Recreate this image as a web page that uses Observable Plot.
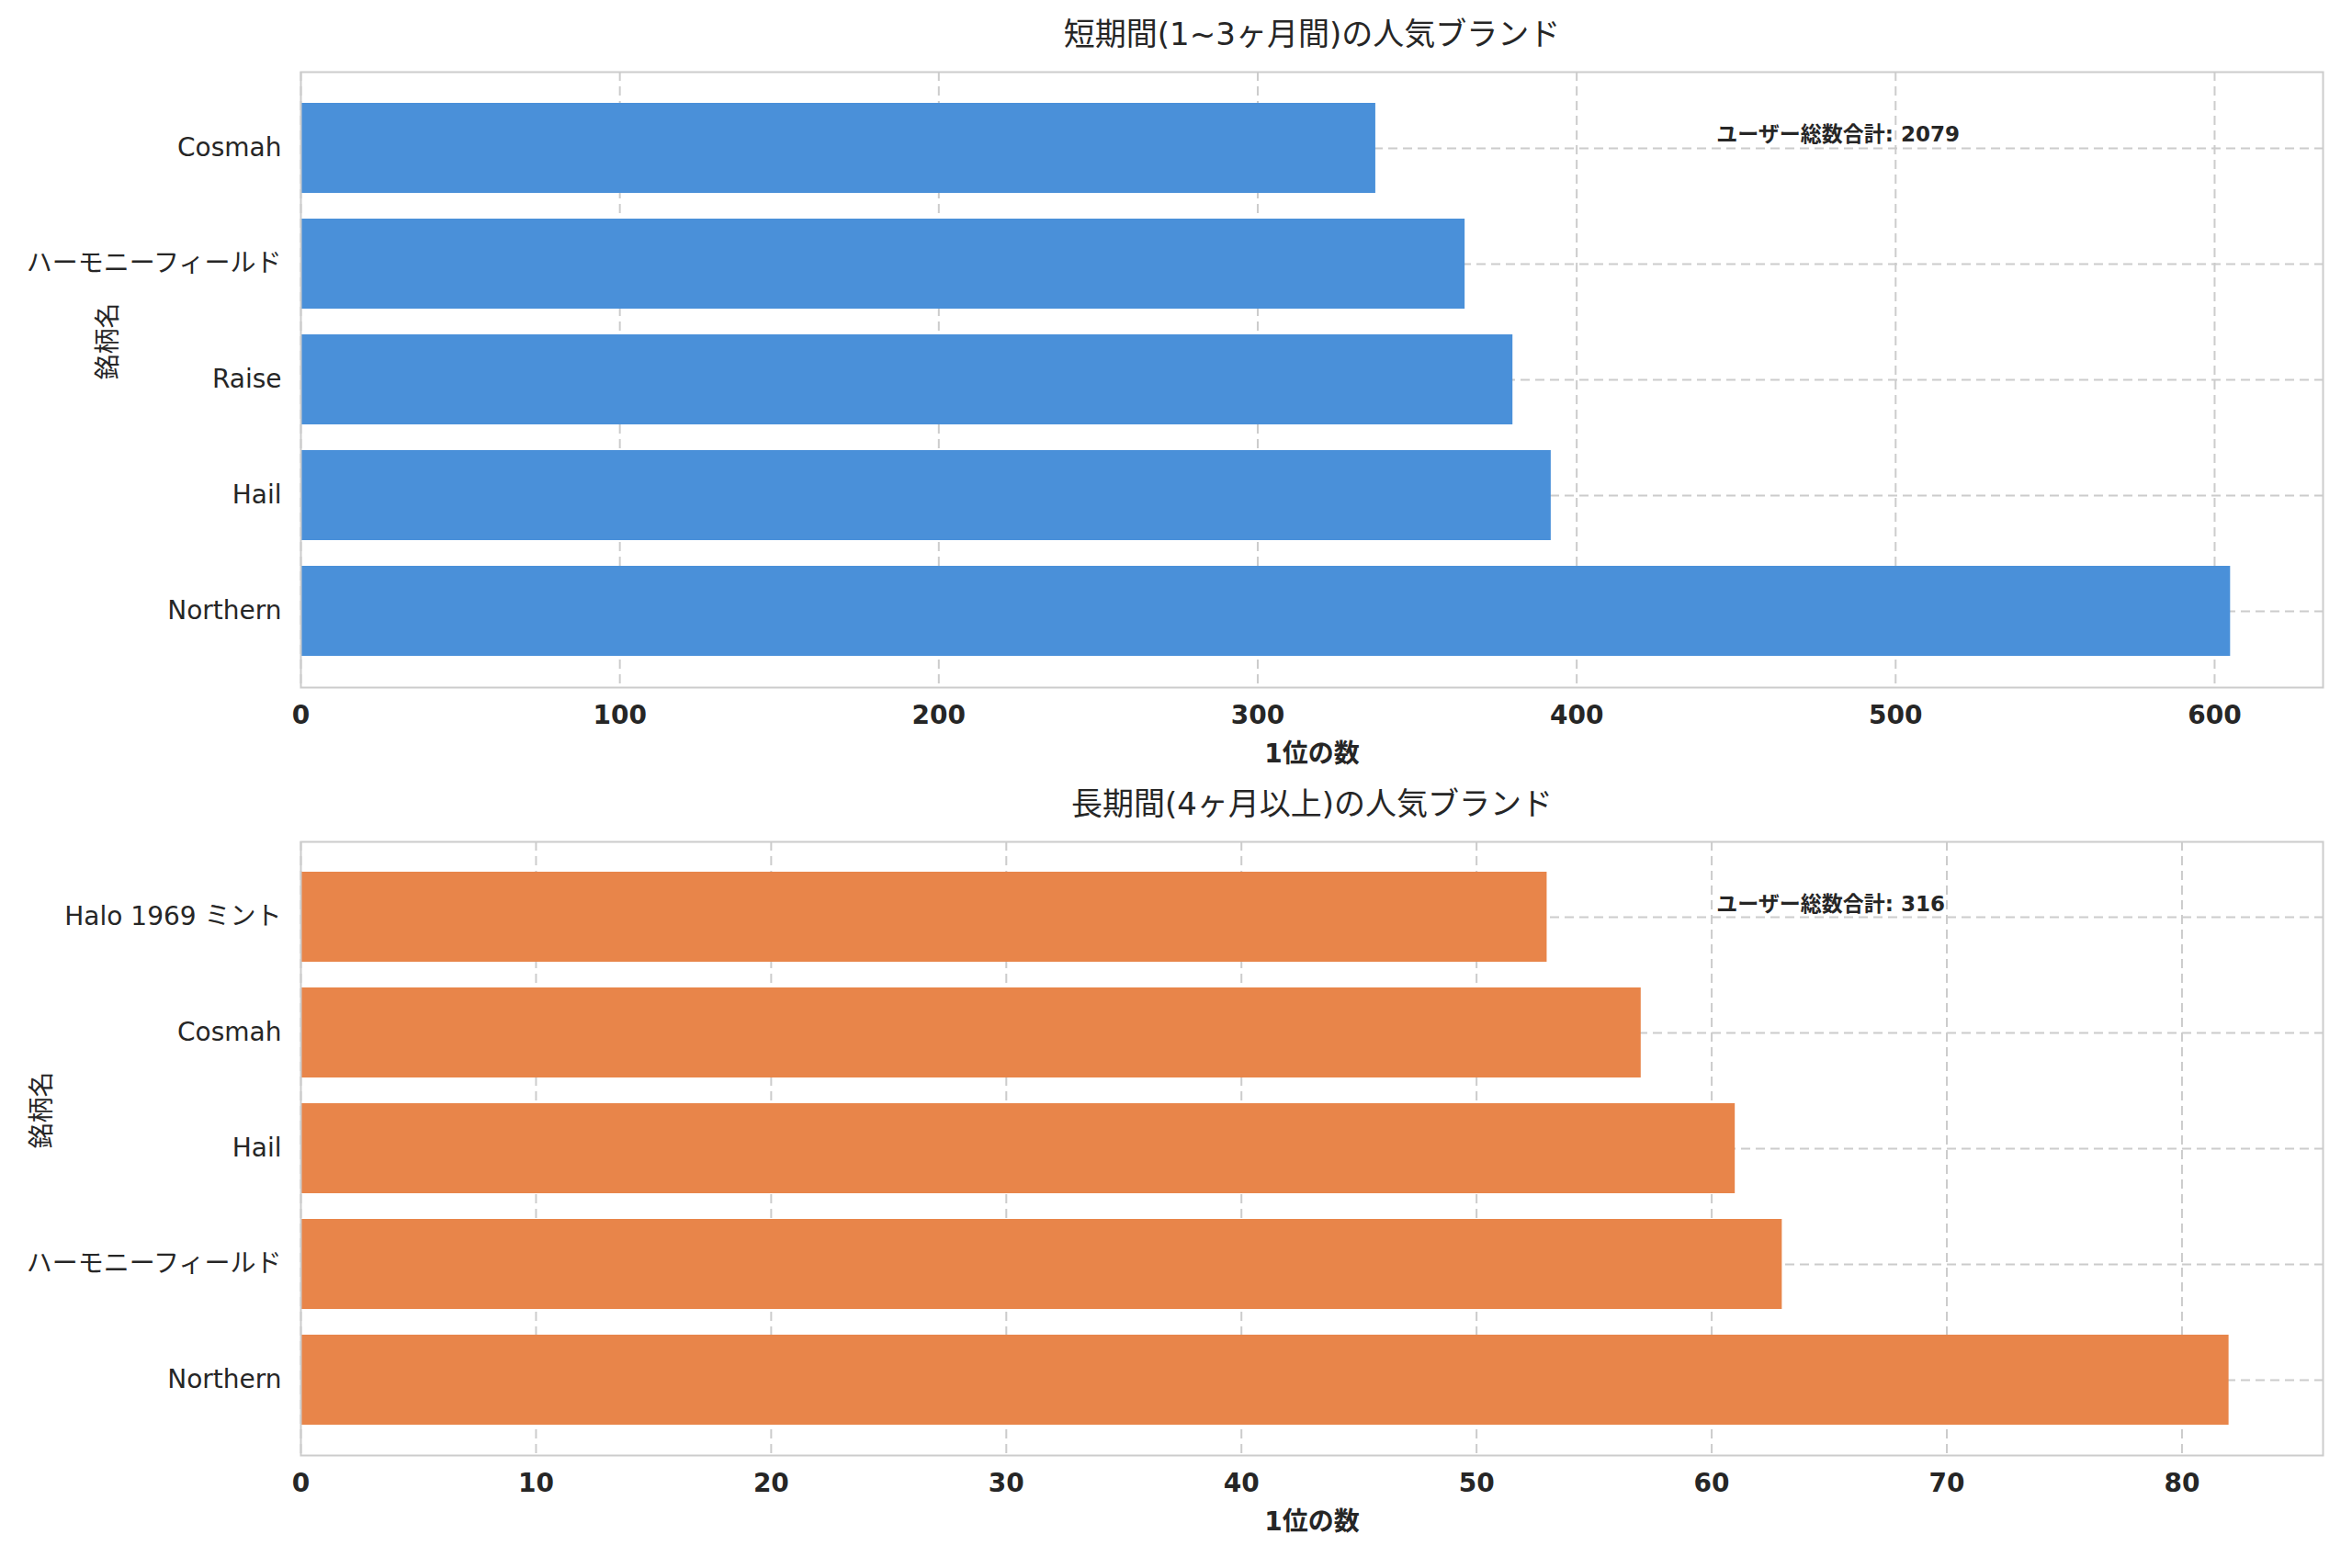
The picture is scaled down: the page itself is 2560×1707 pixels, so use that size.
<!DOCTYPE html>
<html><head><meta charset="utf-8">
<script src="https://cdn.jsdelivr.net/npm/d3@7"></script>
<script src="https://cdn.jsdelivr.net/npm/@observablehq/plot@0.6"></script>
<style>body{margin:0;background:#fff}svg{display:block}</style>
</head><body><div id="c"></div>
<script>
const shortBrands = ["Cosmah", "ハーモニーフィールド", "Raise", "Hail", "Northern"];
const shortValues = [337, 365, 380, 392, 605];
const longBrands = ["Halo 1969 ミント", "Cosmah", "Hail", "ハーモニーフィールド", "Northern"];
const longValues = [53, 57, 61, 63, 82];
const titles = ["短期間(1~3ヶ月間)の人気ブランド", "長期間(4ヶ月以上)の人気ブランド"];
const xLabel = "1位の数";
const yLabel = "銘柄名";
const annoLabel = "ユーザー総数合計";
const font = "'DejaVu Sans','Noto Sans CJK JP',sans-serif";

function panel(brands, values, color, xmax, ticks, mt, mb, yOff, title) {
  const data = brands.map((b, i) => ({brand: b, value: values[i]}));
  const total = d3.sum(values);
  return Plot.plot({
    width: 2560, height: 853,
    marginLeft: 327, marginRight: 32, marginTop: mt, marginBottom: mb,
    style: {fontFamily: font, color: "#262626", background: "#fff"},
    x: {domain: [0, xmax], ticks: ticks, label: null},
    y: {domain: brands, padding: 0.22, paddingOuter: 0.25, label: null},
    marks: [
      Plot.gridX(ticks, {stroke: "#cccccc", strokeOpacity: 1, strokeWidth: 2, strokeDasharray: "10,6"}),
      Plot.gridY({stroke: "#cccccc", strokeOpacity: 1, strokeWidth: 2, strokeDasharray: "10,6"}),
      Plot.barX(data, {y: "brand", x: "value", fill: color}),
      Plot.frame({stroke: "#cccccc", strokeWidth: 2}),
      Plot.axisX(ticks, {tickSize: 0, tickPadding: 20, fontSize: 28, fontWeight: "bold", fill: "#262626", label: null}),
      Plot.axisY({tickSize: 0, tickPadding: 21, fontSize: 28, fill: "#262626", label: null,
        fontWeight: d => /^[\x00-\x7F ]/.test(d) && !/[^\x00-\x7F]/.test(d) ? "bold" : "bold"}),
      Plot.text([xLabel], {frameAnchor: "bottom", dy: 73, text: d => d, fontSize: 28, fontWeight: "bold", fill: "#262626", lineAnchor: "middle"}),
      Plot.text([yLabel], {frameAnchor: "left", dx: -yOff, rotate: -90, text: d => d, fontSize: 28, fill: "#262626"}),
      Plot.text([title], {frameAnchor: "top", dy: -30, text: d => d, fontSize: 34, fill: "#262626", lineAnchor: "bottom"}),
      Plot.text([`${annoLabel}: ${total}`], {frameAnchor: "top-left", dx: 0.7 * (2560 - 327 - 32), dy: 59, text: d => d, fontSize: 23, fontWeight: "bold", fill: "#262626", textAnchor: "start"})
    ]
  });
}
const c = document.getElementById("c");
c.append(panel(shortBrands, shortValues, "#4A90D9", 634, [0,100,200,300,400,500,600], 78, 105, 209, titles[0]));
c.append(panel(longBrands, longValues, "#E8854A", 86, [0,10,20,30,40,50,60,70,80], 63, 122, 281, titles[1]));
</script></body></html>
